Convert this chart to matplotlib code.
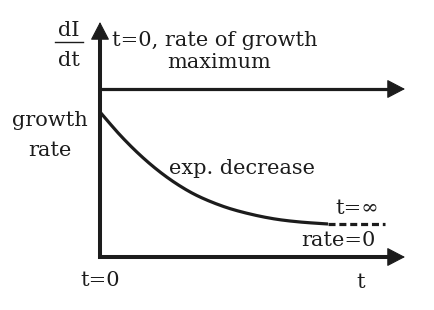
import matplotlib
matplotlib.use("Agg")
import matplotlib.pyplot as plt
import numpy as np

# curve values (x: time in px-units from origin, y: growth rate)
curve_t = [0, 20, 40, 60, 80, 100, 125, 150, 175, 200, 228]
curve_rate = [145, 122, 102, 85, 71, 60, 50, 43, 38, 35, 33]
dash_t = [228, 285]
max_rate_level = 168
x_axis_end = 305
y_axis_end = 235

INK = "#1c1c1c"
FONT = ["DejaVu Serif"]


def smooth(xs, ys, n=20):
    # Catmull-Rom interpolation through the read points (rendering only)
    p = np.column_stack([xs, ys]).astype(float)
    p = np.vstack([2 * p[0] - p[1], p, 2 * p[-1] - p[-2]])
    out = []
    for i in range(1, len(p) - 2):
        p0, p1, p2, p3 = p[i - 1], p[i], p[i + 1], p[i + 2]
        for s in np.linspace(0, 1, n, endpoint=False):
            out.append(0.5 * ((2 * p1) + (-p0 + p2) * s + (2 * p0 - 5 * p1 + 4 * p2 - p3) * s ** 2
                              + (-p0 + 3 * p1 - 3 * p2 + p3) * s ** 3))
    out.append(p[-2])
    out = np.array(out)
    return out[:, 0], out[:, 1]


fig = plt.figure(figsize=(4.35, 3.1), dpi=100)
ax = fig.add_axes([0, 0, 1, 1])
ax.set_xlim(-100, 335)
ax.set_ylim(-53, 257)
ax.axis("off")

head = dict(arrowstyle="-|>,head_length=1.15,head_width=0.6", lw=0.8, color=INK,
            shrinkA=0, shrinkB=0, mutation_scale=10)
# axes (square corner)
ax.plot([0, 0, x_axis_end - 8], [y_axis_end - 8, 0, 0], color=INK, lw=2.9,
        solid_joinstyle="miter", solid_capstyle="butt")
ax.annotate("", xy=(0, y_axis_end), xytext=(0, y_axis_end - 12), arrowprops=head)
ax.annotate("", xy=(x_axis_end, 0), xytext=(x_axis_end - 12, 0), arrowprops=head)
# max rate line
ax.plot([0, x_axis_end - 8], [max_rate_level] * 2, color=INK, lw=2.3, solid_capstyle="butt")
ax.annotate("", xy=(x_axis_end, max_rate_level), xytext=(x_axis_end - 12, max_rate_level),
            arrowprops=head)

# curve
sx, sy = smooth(curve_t, curve_rate)
ax.plot(sx, sy, color=INK, lw=2.3, solid_capstyle="butt")
ax.plot(dash_t, [curve_rate[-1]] * 2, color=INK, lw=2.3, ls=(0, (2.2, 1.2)))

fs = 15
tk = dict(color=INK, family=FONT, fontsize=fs)
ax.text(-31, 226, "dI", ha="center", va="center", **tk)
ax.plot([-45, -17], [215, 215], color=INK, lw=1.0)
ax.text(-31, 196, "dt", ha="center", va="center", **tk)
ax.text(12, 217, "t=0, rate of growth", ha="left", va="center", **tk)
ax.text(119, 194, "maximum", ha="center", va="center", **tk)
ax.text(-50, 137, "growth", ha="center", va="center", **tk)
ax.text(-50, 106, "rate", ha="center", va="center", **tk)
ax.text(142, 89, "exp. decrease", ha="center", va="center", **tk)
ax.text(257, 49, "t=\u221e", ha="center", va="center", **tk)
ax.text(238, 17, "rate=0", ha="center", va="center", **tk)
ax.text(0, -23, "t=0", ha="center", va="center", **tk)
ax.text(261, -25, "t", ha="center", va="center", **tk)

fig.savefig("out.png", dpi=100)
